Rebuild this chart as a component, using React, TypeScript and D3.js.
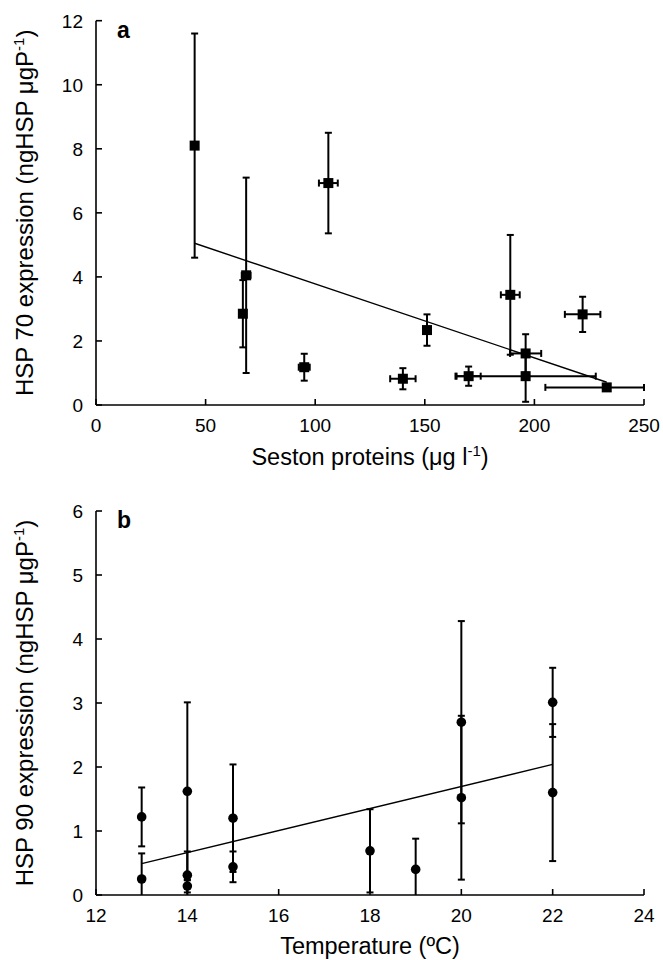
import React from "react";
import * as d3 from "d3";

// panel a: HSP70 vs seston proteins
const proteinX = [45, 68.5, 67, 106, 189, 151, 222, 196, 196, 170, 140, 95, 233];
const hsp70 = [8.1, 4.05, 2.85, 6.93, 3.44, 2.34, 2.83, 1.61, 0.9, 0.9, 0.82, 1.18, 0.55];
const hsp70Err = [3.5, 3.05, 1.05, 1.57, 1.87, 0.49, 0.55, 0.6, 0.8, 0.3, 0.33, 0.42, 0];
const proteinErr = [0, 2, 0, 4.3, 4.3, 0, 8.1, 7.1, 32, 5.5, 5.8, 2.5, 28];
const fit70X = [45, 233];
const fit70Y = [5.05, 0.71];
const proteinTicks = [0, 50, 100, 150, 200, 250];
const hsp70Ticks = [0, 2, 4, 6, 8, 10, 12];

// panel b: HSP90 vs temperature
const tempX = [13, 13, 14, 14, 14, 15, 15, 18, 19, 20, 20, 22, 22];
const hsp90 = [1.22, 0.25, 1.62, 0.31, 0.14, 1.2, 0.44, 0.69, 0.4, 2.7, 1.52, 3.01, 1.6];
const hsp90Err = [0.46, 0.4, 1.39, 0.37, 0.1, 0.84, 0.24, 0.65, 0.48, 1.58, 1.28, 0.54, 1.07];
const fit90X = [13, 22];
const fit90Y = [0.49, 2.04];
const tempTicks = [12, 14, 16, 18, 20, 22, 24];
const hsp90Ticks = [0, 1, 2, 3, 4, 5, 6];

const FONT = "Liberation Sans, Arial, sans-serif";
const left = 96;
const right = 644;
const cap = 3.5;

type PanelProps = {
  top: number;
  bottom: number;
  xDomain: [number, number];
  yDomain: [number, number];
  xTicks: number[];
  yTicks: number[];
  xs: number[];
  ys: number[];
  yErr: number[];
  xErr: number[] | null;
  fitX: number[];
  fitY: number[];
  marker: "square" | "circle";
  letter: string;
  titleGap: number;
  xTitle: React.ReactNode;
  yTitle: React.ReactNode;
};

function Panel(p: PanelProps) {
  const x = d3.scaleLinear().domain(p.xDomain).range([left, right]);
  const y = d3.scaleLinear().domain(p.yDomain).range([p.bottom, p.top]);
  const line = d3.line<number>()
    .x((d, i) => x(p.fitX[i]))
    .y((d) => y(d));

  const bars: React.ReactNode[] = [];
  p.xs.forEach((xv, i) => {
    const yv = p.ys[i];
    const e = p.yErr[i];
    if (e > 0) {
      const lo = Math.max(yv - e, p.yDomain[0]);
      const hi = yv + e;
      bars.push(<line key={"v" + i} x1={x(xv)} x2={x(xv)} y1={y(lo)} y2={y(hi)} />);
      bars.push(<line key={"vt" + i} x1={x(xv) - cap} x2={x(xv) + cap} y1={y(hi)} y2={y(hi)} />);
      if (yv - e > p.yDomain[0])
        bars.push(<line key={"vb" + i} x1={x(xv) - cap} x2={x(xv) + cap} y1={y(lo)} y2={y(lo)} />);
    }
    const xe = p.xErr ? p.xErr[i] : 0;
    if (xe > 0) {
      const l = xv - xe;
      const r = Math.min(xv + xe, p.xDomain[1]);
      bars.push(<line key={"h" + i} x1={x(l)} x2={x(r)} y1={y(yv)} y2={y(yv)} />);
      bars.push(<line key={"hl" + i} x1={x(l)} x2={x(l)} y1={y(yv) - cap} y2={y(yv) + cap} />);
      bars.push(<line key={"hr" + i} x1={x(r)} x2={x(r)} y1={y(yv) - cap} y2={y(yv) + cap} />);
    }
  });

  const midY = (p.top + p.bottom) / 2;

  return (
    <g fontFamily={FONT}>
      {/* axes */}
      <g stroke="#000" strokeWidth={1.6} fill="none">
        <line x1={left} x2={left} y1={y(p.yDomain[0])} y2={y(p.yDomain[1])} />
        <line x1={left} x2={right} y1={p.bottom} y2={p.bottom} />
        {p.yTicks.map((t) => (
          <line key={"yt" + t} x1={left} x2={left + 6} y1={y(t)} y2={y(t)} />
        ))}
        {p.xTicks.map((t) => (
          <line key={"xt" + t} x1={x(t)} x2={x(t)} y1={p.bottom} y2={p.bottom - 6} />
        ))}
      </g>
      {p.yTicks.map((t) => (
        <text key={"yl" + t} x={left - 13} y={y(t)} dy="0.36em" textAnchor="end" fontSize={19}>
          {t}
        </text>
      ))}
      {p.xTicks.map((t) => (
        <text key={"xl" + t} x={x(t)} y={p.bottom + 27} textAnchor="middle" fontSize={19}>
          {t}
        </text>
      ))}
      <text x={(left + right) / 2} y={p.bottom + p.titleGap} textAnchor="middle" fontSize={23.5}>
        {p.xTitle}
      </text>
      <text transform={`translate(33, ${midY}) rotate(-90)`} textAnchor="middle" fontSize={24}>
        {p.yTitle}
      </text>
      <text x={117} y={p.top + 17} fontSize={23} fontWeight="bold">
        {p.letter}
      </text>

      {/* error bars */}
      <g stroke="#000" strokeWidth={2}>{bars}</g>

      {/* fitted line */}
      <path d={line(p.fitY) || ""} stroke="#000" strokeWidth={1.4} fill="none" />

      {/* markers */}
      {p.xs.map((xv, i) =>
        p.marker === "square" ? (
          <rect key={"m" + i} x={x(xv) - 5} y={y(p.ys[i]) - 5} width={10} height={10} fill="#000" />
        ) : (
          <circle key={"m" + i} cx={x(xv)} cy={y(p.ys[i])} r={4.8} fill="#000" />
        )
      )}
    </g>
  );
}

export default function App() {
  return (
    <svg
      width={663}
      height={960}
      style={{ position: "absolute", left: 0, top: 0, background: "#fff" }}
    >
      <rect width={663} height={960} fill="#fff" />
      <Panel
        top={20.7}
        bottom={405}
        xDomain={[0, 250]}
        yDomain={[0, 12]}
        xTicks={proteinTicks}
        yTicks={hsp70Ticks}
        xs={proteinX}
        ys={hsp70}
        yErr={hsp70Err}
        xErr={proteinErr}
        fitX={fit70X}
        fitY={fit70Y}
        marker="square"
        letter="a"
        titleGap={60}
        xTitle={
          <>
            Seston proteins (μg l
            <tspan dy="-9" fontSize={15}>-1</tspan>
            <tspan dy="9">)</tspan>
          </>
        }
        yTitle={
          <>
            HSP 70 expression (ngHSP μgP
            <tspan dy="-9" fontSize={15}>-1</tspan>
            <tspan dy="9">)</tspan>
          </>
        }
      />
      <Panel
        top={511}
        bottom={895}
        xDomain={[12, 24]}
        yDomain={[0, 6]}
        xTicks={tempTicks}
        yTicks={hsp90Ticks}
        xs={tempX}
        ys={hsp90}
        yErr={hsp90Err}
        xErr={null}
        fitX={fit90X}
        fitY={fit90Y}
        marker="circle"
        letter="b"
        titleGap={59}
        xTitle={<>Temperature (ºC)</>}
        yTitle={
          <>
            HSP 90 expression (ngHSP μgP
            <tspan dy="-9" fontSize={15}>-1</tspan>
            <tspan dy="9">)</tspan>
          </>
        }
      />
    </svg>
  );
}
